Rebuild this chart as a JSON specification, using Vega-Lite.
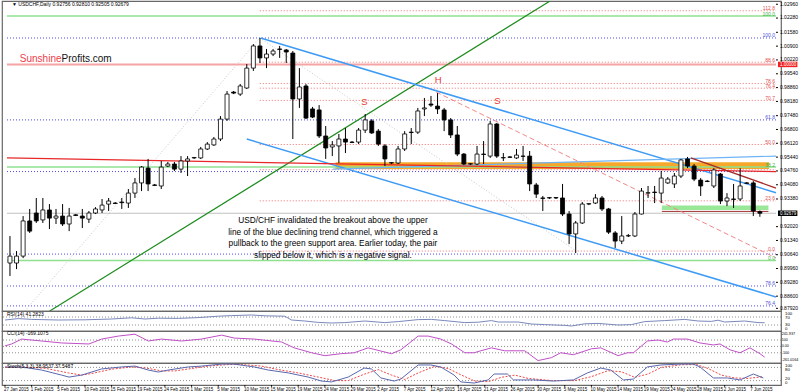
{
"$schema": "https://vega.github.io/schema/vega-lite/v6.json",
"padding": 0,
"spacing": 0,
"bounds": "flush",
"background": "white",
"config": {
 "view": {"stroke": "#686868", "strokeWidth": 1.2},
 "font": "Liberation Sans"
},
"datasets": {
 "c": [
  {"i":0,"o":0.9023,"h":0.9156,"l":0.8959,"c":0.9057},
  {"i":1,"o":0.9023,"h":0.9082,"l":0.8993,"c":0.9057},
  {"i":2,"o":0.9057,"h":0.9254,"l":0.9047,"c":0.9230},
  {"i":3,"o":0.9230,"h":0.9289,"l":0.9171,"c":0.9180},
  {"i":4,"o":0.9269,"h":0.9343,"l":0.9220,"c":0.9230},
  {"i":5,"o":0.9235,"h":0.9343,"l":0.9220,"c":0.9284},
  {"i":6,"o":0.9284,"h":0.9313,"l":0.9190,"c":0.9244},
  {"i":7,"o":0.9244,"h":0.9289,"l":0.9215,"c":0.9254},
  {"i":8,"o":0.9254,"h":0.9313,"l":0.9205,"c":0.9215},
  {"i":9,"o":0.9215,"h":0.9294,"l":0.9180,"c":0.9254},
  {"i":10,"o":0.9260,"h":0.9264,"l":0.9254,"c":0.9257},
  {"i":11,"o":0.9254,"h":0.9289,"l":0.9195,"c":0.9244},
  {"i":12,"o":0.9239,"h":0.9279,"l":0.9220,"c":0.9269},
  {"i":13,"o":0.9269,"h":0.9298,"l":0.9264,"c":0.9289},
  {"i":14,"o":0.9284,"h":0.9338,"l":0.9269,"c":0.9308},
  {"i":15,"o":0.9313,"h":0.9343,"l":0.9279,"c":0.9328},
  {"i":16,"o":0.9318,"h":0.9323,"l":0.9313,"c":0.9316},
  {"i":17,"o":0.9323,"h":0.9343,"l":0.9289,"c":0.9320},
  {"i":18,"o":0.9318,"h":0.9387,"l":0.9294,"c":0.9367},
  {"i":19,"o":0.9367,"h":0.9441,"l":0.9343,"c":0.9417},
  {"i":20,"o":0.9417,"h":0.9500,"l":0.9377,"c":0.9495},
  {"i":21,"o":0.9490,"h":0.9535,"l":0.9377,"c":0.9412},
  {"i":22,"o":0.9407,"h":0.9412,"l":0.9402,"c":0.9405},
  {"i":23,"o":0.9402,"h":0.9525,"l":0.9387,"c":0.9495},
  {"i":24,"o":0.9500,"h":0.9520,"l":0.9495,"c":0.9510},
  {"i":25,"o":0.9510,"h":0.9520,"l":0.9476,"c":0.9485},
  {"i":26,"o":0.9485,"h":0.9549,"l":0.9466,"c":0.9525},
  {"i":27,"o":0.9525,"h":0.9549,"l":0.9451,"c":0.9535},
  {"i":28,"o":0.9540,"h":0.9545,"l":0.9535,"c":0.9542},
  {"i":29,"o":0.9540,"h":0.9594,"l":0.9535,"c":0.9584},
  {"i":30,"o":0.9584,"h":0.9618,"l":0.9579,"c":0.9608},
  {"i":31,"o":0.9604,"h":0.9643,"l":0.9599,"c":0.9633},
  {"i":32,"o":0.9633,"h":0.9746,"l":0.9623,"c":0.9731},
  {"i":33,"o":0.9731,"h":0.9869,"l":0.9722,"c":0.9854},
  {"i":34,"o":0.9864,"h":0.9869,"l":0.9854,"c":0.9859},
  {"i":35,"o":0.9854,"h":0.9904,"l":0.9845,"c":0.9894},
  {"i":36,"o":0.9884,"h":1.0002,"l":0.9879,"c":0.9982},
  {"i":37,"o":0.9982,"h":1.0100,"l":0.9968,"c":1.0091},
  {"i":38,"o":1.0091,"h":1.0130,"l":1.0007,"c":1.0032},
  {"i":39,"o":1.0032,"h":1.0076,"l":0.9982,"c":1.0051},
  {"i":40,"o":1.0051,"h":1.0076,"l":1.0041,"c":1.0066},
  {"i":41,"o":1.0076,"h":1.0091,"l":1.0032,"c":1.0074},
  {"i":42,"o":1.0071,"h":1.0076,"l":1.0007,"c":1.0061},
  {"i":43,"o":1.0056,"h":1.0066,"l":0.9633,"c":0.9830},
  {"i":44,"o":0.9830,"h":0.9982,"l":0.9786,"c":0.9889},
  {"i":45,"o":0.9894,"h":0.9904,"l":0.9731,"c":0.9736},
  {"i":46,"o":0.9781,"h":0.9791,"l":0.9736,"c":0.9741},
  {"i":47,"o":0.9776,"h":0.9800,"l":0.9638,"c":0.9648},
  {"i":48,"o":0.9648,"h":0.9697,"l":0.9535,"c":0.9589},
  {"i":49,"o":0.9594,"h":0.9623,"l":0.9549,"c":0.9604},
  {"i":50,"o":0.9599,"h":0.9658,"l":0.9515,"c":0.9633},
  {"i":51,"o":0.9633,"h":0.9687,"l":0.9564,"c":0.9618},
  {"i":52,"o":0.9618,"h":0.9623,"l":0.9613,"c":0.9616},
  {"i":53,"o":0.9618,"h":0.9687,"l":0.9608,"c":0.9677},
  {"i":54,"o":0.9677,"h":0.9756,"l":0.9663,"c":0.9727},
  {"i":55,"o":0.9722,"h":0.9731,"l":0.9658,"c":0.9663},
  {"i":56,"o":0.9672,"h":0.9682,"l":0.9599,"c":0.9608},
  {"i":57,"o":0.9599,"h":0.9608,"l":0.9500,"c":0.9535},
  {"i":58,"o":0.9515,"h":0.9520,"l":0.9510,"c":0.9517},
  {"i":59,"o":0.9515,"h":0.9599,"l":0.9510,"c":0.9584},
  {"i":60,"o":0.9584,"h":0.9672,"l":0.9574,"c":0.9658},
  {"i":61,"o":0.9667,"h":0.9687,"l":0.9608,"c":0.9665},
  {"i":62,"o":0.9667,"h":0.9786,"l":0.9658,"c":0.9771},
  {"i":63,"o":0.9781,"h":0.9835,"l":0.9746,"c":0.9786},
  {"i":64,"o":0.9805,"h":0.9845,"l":0.9791,"c":0.9800},
  {"i":65,"o":0.9795,"h":0.9859,"l":0.9756,"c":0.9781},
  {"i":66,"o":0.9776,"h":0.9786,"l":0.9672,"c":0.9727},
  {"i":67,"o":0.9727,"h":0.9736,"l":0.9638,"c":0.9653},
  {"i":68,"o":0.9653,"h":0.9697,"l":0.9549,"c":0.9559},
  {"i":69,"o":0.9559,"h":0.9564,"l":0.9505,"c":0.9510},
  {"i":70,"o":0.9510,"h":0.9515,"l":0.9505,"c":0.9512},
  {"i":71,"o":0.9510,"h":0.9599,"l":0.9505,"c":0.9559},
  {"i":72,"o":0.9559,"h":0.9623,"l":0.9510,"c":0.9557},
  {"i":73,"o":0.9549,"h":0.9722,"l":0.9540,"c":0.9707},
  {"i":74,"o":0.9707,"h":0.9712,"l":0.9540,"c":0.9549},
  {"i":75,"o":0.9540,"h":0.9564,"l":0.9525,"c":0.9542},
  {"i":76,"o":0.9545,"h":0.9549,"l":0.9540,"c":0.9543},
  {"i":77,"o":0.9540,"h":0.9584,"l":0.9535,"c":0.9554},
  {"i":78,"o":0.9549,"h":0.9599,"l":0.9525,"c":0.9548},
  {"i":79,"o":0.9549,"h":0.9574,"l":0.9377,"c":0.9412},
  {"i":80,"o":0.9407,"h":0.9417,"l":0.9343,"c":0.9362},
  {"i":81,"o":0.9343,"h":0.9353,"l":0.9279,"c":0.9341},
  {"i":82,"o":0.9343,"h":0.9348,"l":0.9338,"c":0.9345},
  {"i":83,"o":0.9345,"h":0.9348,"l":0.9338,"c":0.9343},
  {"i":84,"o":0.9343,"h":0.9412,"l":0.9254,"c":0.9264},
  {"i":85,"o":0.9264,"h":0.9279,"l":0.9116,"c":0.9166},
  {"i":86,"o":0.9166,"h":0.9230,"l":0.9072,"c":0.9220},
  {"i":87,"o":0.9220,"h":0.9323,"l":0.9215,"c":0.9313},
  {"i":88,"o":0.9313,"h":0.9318,"l":0.9308,"c":0.9315},
  {"i":89,"o":0.9318,"h":0.9362,"l":0.9313,"c":0.9343},
  {"i":90,"o":0.9343,"h":0.9353,"l":0.9279,"c":0.9289},
  {"i":91,"o":0.9289,"h":0.9294,"l":0.9166,"c":0.9175},
  {"i":92,"o":0.9171,"h":0.9180,"l":0.9097,"c":0.9131},
  {"i":93,"o":0.9131,"h":0.9254,"l":0.9116,"c":0.9156},
  {"i":94,"o":0.9156,"h":0.9166,"l":0.9151,"c":0.9158},
  {"i":95,"o":0.9156,"h":0.9274,"l":0.9151,"c":0.9264},
  {"i":96,"o":0.9264,"h":0.9392,"l":0.9262,"c":0.9377},
  {"i":97,"o":0.9367,"h":0.9402,"l":0.9343,"c":0.9369},
  {"i":98,"o":0.9372,"h":0.9402,"l":0.9318,"c":0.9370},
  {"i":99,"o":0.9367,"h":0.9476,"l":0.9318,"c":0.9441},
  {"i":100,"o":0.9417,"h":0.9446,"l":0.9412,"c":0.9436},
  {"i":101,"o":0.9412,"h":0.9466,"l":0.9392,"c":0.9451},
  {"i":102,"o":0.9451,"h":0.9535,"l":0.9441,"c":0.9530},
  {"i":103,"o":0.9535,"h":0.9545,"l":0.9490,"c":0.9500},
  {"i":104,"o":0.9500,"h":0.9510,"l":0.9426,"c":0.9436},
  {"i":105,"o":0.9431,"h":0.9441,"l":0.9353,"c":0.9402},
  {"i":106,"o":0.9426,"h":0.9431,"l":0.9421,"c":0.9424},
  {"i":107,"o":0.9402,"h":0.9490,"l":0.9392,"c":0.9481},
  {"i":108,"o":0.9461,"h":0.9466,"l":0.9313,"c":0.9328},
  {"i":109,"o":0.9328,"h":0.9367,"l":0.9303,"c":0.9343},
  {"i":110,"o":0.9338,"h":0.9412,"l":0.9294,"c":0.9336},
  {"i":111,"o":0.9338,"h":0.9490,"l":0.9328,"c":0.9402},
  {"i":112,"o":0.9417,"h":0.9421,"l":0.9412,"c":0.9415},
  {"i":113,"o":0.9417,"h":0.9426,"l":0.9254,"c":0.9279},
  {"i":114,"o":0.92756,"h":0.92810,"l":0.92505,"c":0.92679}
 ],
 "lv": [
  {"g":"fr","p":1.0264,"a":37.97,"b":116.45},
  {"g":"fr","p":1.0011,"a":37.97,"b":116.45},
  {"g":"fr","p":0.9906,"a":37.97,"b":116.45},
  {"g":"fr","p":0.9883,"a":37.97,"b":116.45},
  {"g":"fr","p":0.9823,"a":37.97,"b":116.45},
  {"g":"fr","p":0.9606,"a":37.97,"b":116.45},
  {"g":"fr","p":0.9482,"a":37.97,"b":116.45},
  {"g":"fr","p":0.9329,"a":37.97,"b":116.45},
  {"g":"fr","p":0.9082,"a":37.97,"b":116.45},
  {"g":"bl","p":1.0130,"a":-0.45,"b":116.45},
  {"g":"bl","p":0.9727,"a":-0.45,"b":116.45},
  {"g":"bl","p":0.9473,"a":-0.45,"b":116.45},
  {"g":"bl","p":0.9067,"a":-0.45,"b":116.45},
  {"g":"bl","p":0.8910,"a":-0.45,"b":116.45},
  {"g":"bl","p":0.8812,"a":-0.45,"b":116.45},
  {"g":"gr","p":1.0238,"a":-0.45,"b":116.45},
  {"g":"gr","p":0.9495,"a":-0.45,"b":116.45},
  {"g":"gr","p":0.9035,"a":-0.45,"b":116.45},
  {"g":"par","p":1.0000,"a":-0.45,"b":116.45},
  {"g":"bid","p":0.92679,"a":-0.45,"b":116.45},
  {"g":"dr","p":0.9277,"a":99.1,"b":115.3}
 ],
 "bands": [
  {"g":"orange","a":49.5,"b":115.4,"p1":0.9486,"p2":0.9519},
  {"g":"green","a":99.1,"b":115.3,"p1":0.9284,"p2":0.9306}
 ],
 "tl": [
  {"id":"green","i":6.05,"p":0.8787},{"id":"green","i":82.1,"p":1.0312},
  {"id":"gdot","i":2.27,"p":0.8787},{"id":"gdot","i":37.97,"p":1.0130},
  {"id":"fdiag","i":37.97,"p":1.0130},{"id":"fdiag","i":86.1,"p":0.9082},
  {"id":"bup","i":38.1,"p":1.0130},{"id":"bup","i":116.45,"p":0.9369},
  {"id":"blo","i":36.0,"p":0.9633},{"id":"blo","i":116.45,"p":0.8856},
  {"id":"lblue","i":49.1,"p":0.9485},{"id":"lblue","i":116.45,"p":0.9549},
  {"id":"red","i":-0.45,"p":0.9540},{"id":"red","i":116.45,"p":0.9473},
  {"id":"dred","i":103.5,"p":0.9540},{"id":"dred","i":116.45,"p":0.9392},
  {"id":"pink","i":64.8,"p":0.9864},{"id":"pink","i":116.45,"p":0.9048}
 ],
 "fl": [
  {"t":"112.8","p":1.0264,"g":"r"},
  {"t":"100.0","p":1.0130,"g":"b"},
  {"t":"88.6","p":1.0011,"g":"r"},
  {"t":"78.6","p":0.9906,"g":"r"},
  {"t":"76.4","p":0.9883,"g":"r"},
  {"t":"70.7","p":0.9823,"g":"r"},
  {"t":"61.8","p":0.9727,"g":"b"},
  {"t":"50.0","p":0.9606,"g":"r"},
  {"t":"38.2","p":0.9495,"g":"g"},
  {"t":"23.6","p":0.9329,"g":"r"},
  {"t":"0.0","p":0.9082,"g":"r"},
  {"t":"0.0","p":0.9035,"g":"g"},
  {"t":"78.6","p":0.8910,"g":"b"},
  {"t":"76.4","p":0.8812,"g":"b"},
  {"t":"100.0","p":1.0238,"g":"g"}
 ],
 "yl": [
  {"p":1.0296,"t":"1.02960"},{"p":1.0228,"t":"1.02280"},{"p":1.0158,"t":"1.01580"},{"p":1.0090,"t":"1.00900"},{"p":1.0022,"t":"1.00220"},
  {"p":0.9954,"t":"0.99540"},{"p":0.9886,"t":"0.98860"},{"p":0.9818,"t":"0.98180"},{"p":0.9748,"t":"0.97480"},{"p":0.9680,"t":"0.96800"},
  {"p":0.9612,"t":"0.96120"},{"p":0.9544,"t":"0.95440"},{"p":0.9476,"t":"0.94760"},{"p":0.9408,"t":"0.94080"},{"p":0.9338,"t":"0.93380"},
  {"p":0.9202,"t":"0.92020"},{"p":0.9134,"t":"0.91340"},{"p":0.9064,"t":"0.90640"},{"p":0.8996,"t":"0.89960"},{"p":0.8928,"t":"0.89280"},
  {"p":0.8860,"t":"0.88600"},{"p":0.8800,"t":"0.87920"}
 ],
 "dl": [
  {"i":0,"t":"27 Jan 2015"},{"i":4,"t":"1 Feb 2015"},{"i":8,"t":"5 Feb 2015"},{"i":12,"t":"10 Feb 2015"},{"i":16,"t":"15 Feb 2015"},
  {"i":20,"t":"19 Feb 2015"},{"i":24,"t":"24 Feb 2015"},{"i":28,"t":"1 Mar 2015"},{"i":32,"t":"5 Mar 2015"},{"i":36,"t":"10 Mar 2015"},
  {"i":40,"t":"15 Mar 2015"},{"i":44,"t":"19 Mar 2015"},{"i":48,"t":"24 Mar 2015"},{"i":52,"t":"29 Mar 2015"},{"i":56,"t":"2 Apr 2015"},
  {"i":60,"t":"7 Apr 2015"},{"i":64,"t":"12 Apr 2015"},{"i":68,"t":"16 Apr 2015"},{"i":72,"t":"21 Apr 2015"},{"i":76,"t":"26 Apr 2015"},
  {"i":80,"t":"30 Apr 2015"},{"i":84,"t":"5 May 2015"},{"i":88,"t":"10 May 2015"},{"i":92,"t":"14 May 2015"},{"i":96,"t":"19 May 2015"},
  {"i":100,"t":"24 May 2015"},{"i":104,"t":"28 May 2015"},{"i":108,"t":"2 Jun 2015"},{"i":112,"t":"7 Jun 2015"}
 ],
 "rsi": [
  {"i":0,"v":55},{"i":2,"v":62},{"i":4,"v":58},{"i":8,"v":55},{"i":12,"v":56},{"i":16,"v":60},{"i":19,"v":66},{"i":21,"v":60},{"i":23,"v":64},{"i":26,"v":63},{"i":29,"v":67},{"i":32,"v":74},{"i":34,"v":77},{"i":37,"v":80},{"i":39,"v":76},{"i":42,"v":74},{"i":43,"v":55},{"i":45,"v":50},{"i":47,"v":43},{"i":49,"v":40},{"i":51,"v":42},{"i":54,"v":50},{"i":57,"v":42},{"i":59,"v":47},{"i":62,"v":57},{"i":64,"v":58},{"i":66,"v":52},{"i":69,"v":42},{"i":71,"v":44},{"i":73,"v":52},{"i":74,"v":45},{"i":77,"v":45},{"i":79,"v":35},{"i":81,"v":32},{"i":84,"v":28},{"i":85,"v":25},{"i":87,"v":36},{"i":89,"v":38},{"i":92,"v":30},{"i":94,"v":32},{"i":96,"v":47},{"i":99,"v":52},{"i":102,"v":58},{"i":104,"v":50},{"i":106,"v":48},{"i":107,"v":54},{"i":108,"v":45},{"i":111,"v":50},{"i":113,"v":42},{"i":114,"v":41.3}
 ],
 "cci": [
  {"i":0,"v":8},{"i":1,"v":38},{"i":2.5,"v":115},{"i":5.5,"v":85},{"i":8.5,"v":54},{"i":12.6,"v":38},{"i":14.5,"v":115},{"i":17,"v":162},{"i":19.5,"v":192},{"i":21.5,"v":85},{"i":23.5,"v":115},{"i":26.5,"v":85},{"i":29.5,"v":115},{"i":32.5,"v":177},{"i":34.4,"v":131},{"i":37.4,"v":115},{"i":41.5,"v":69},{"i":43.4,"v":-23},{"i":46,"v":-100},{"i":48,"v":-146},{"i":50.4,"v":-115},{"i":52.4,"v":-100},{"i":54.5,"v":-23},{"i":58,"v":-115},{"i":59.4,"v":-54},{"i":60.5,"v":38},{"i":62,"v":162},{"i":63.5,"v":162},{"i":65.4,"v":115},{"i":67,"v":38},{"i":69,"v":-100},{"i":70.4,"v":-100},{"i":71.4,"v":-69},{"i":73,"v":-23},{"i":75,"v":-69},{"i":78,"v":-69},{"i":80,"v":-223},{"i":82,"v":-177},{"i":83.4,"v":-100},{"i":85.3,"v":-131},{"i":88,"v":-38},{"i":89.4,"v":-23},{"i":92,"v":-146},{"i":93.4,"v":-100},{"i":94.3,"v":-100},{"i":96.4,"v":85},{"i":98,"v":100},{"i":99.4,"v":69},{"i":100.3,"v":115},{"i":102.4,"v":115},{"i":104.3,"v":54},{"i":106.3,"v":23},{"i":107.3,"v":38},{"i":108.8,"v":-54},{"i":110.3,"v":-100},{"i":111.8,"v":-23},{"i":113.3,"v":-115},{"i":114,"v":-169.1}
 ],
 "sto": [
  {"i":0,"v":82},{"i":2.5,"v":82},{"i":5.5,"v":68},{"i":8.5,"v":45},{"i":9.6,"v":36},{"i":11.5,"v":45},{"i":14.5,"v":73},{"i":17.5,"v":82},{"i":19.5,"v":86},{"i":21.5,"v":68},{"i":23,"v":59},{"i":24.5,"v":68},{"i":27.5,"v":82},{"i":29.5,"v":86},{"i":32.5,"v":95},{"i":34.4,"v":95},{"i":37.4,"v":82},{"i":39.5,"v":68},{"i":42.5,"v":55},{"i":45.5,"v":36},{"i":47.5,"v":18},{"i":49,"v":14},{"i":51.5,"v":36},{"i":53.9,"v":77},{"i":55,"v":73},{"i":56.4,"v":32},{"i":58.4,"v":18},{"i":59.4,"v":27},{"i":62,"v":91},{"i":63.9,"v":91},{"i":65.4,"v":82},{"i":67.4,"v":45},{"i":68.4,"v":14},{"i":70.4,"v":9},{"i":72.5,"v":23},{"i":73.4,"v":50},{"i":75.4,"v":50},{"i":76.3,"v":23},{"i":79.3,"v":23},{"i":82.3,"v":18},{"i":85.3,"v":23},{"i":87.4,"v":55},{"i":89.4,"v":77},{"i":90.9,"v":68},{"i":92.8,"v":23},{"i":94.3,"v":27},{"i":96.4,"v":82},{"i":98.4,"v":91},{"i":101.3,"v":95},{"i":103.3,"v":95},{"i":104.3,"v":82},{"i":106.3,"v":32},{"i":108.4,"v":32},{"i":110.3,"v":23},{"i":112.3,"v":50},{"i":113.8,"v":32}
 ],
 "sig": [
  {"i":0,"v":80},{"i":3,"v":82},{"i":6,"v":76},{"i":9.5,"v":55},{"i":11.5,"v":45},{"i":13,"v":52},{"i":16,"v":72},{"i":19,"v":82},{"i":21,"v":78},{"i":23.5,"v":64},{"i":25.5,"v":64},{"i":28,"v":75},{"i":30.5,"v":86},{"i":33.5,"v":93},{"i":35.5,"v":93},{"i":38.5,"v":86},{"i":41,"v":70},{"i":44,"v":55},{"i":47,"v":36},{"i":49.5,"v":20},{"i":51.5,"v":20},{"i":54,"v":50},{"i":56,"v":70},{"i":58,"v":45},{"i":60,"v":25},{"i":62,"v":55},{"i":64.5,"v":85},{"i":66.5,"v":75},{"i":68.5,"v":45},{"i":70.5,"v":18},{"i":72.5,"v":15},{"i":74.5,"v":35},{"i":76.5,"v":45},{"i":78.5,"v":30},{"i":82,"v":20},{"i":85.5,"v":20},{"i":88,"v":38},{"i":90.5,"v":65},{"i":92.5,"v":60},{"i":94.5,"v":35},{"i":96.5,"v":50},{"i":98.5,"v":80},{"i":101.5,"v":92},{"i":103.8,"v":93},{"i":105.5,"v":75},{"i":107.5,"v":45},{"i":109.5,"v":32},{"i":111.5,"v":30},{"i":113.8,"v":38}
 ]
},
"vconcat": [
 {
  "width": 779, "height": 310,
  "layer": [
   {"data": {"name": "bands"}, "transform": [{"filter": "datum.g=='orange'"}],
    "mark": {"type": "rect", "color": "#F5A31F", "opacity": 0.95},
    "encoding": {"x": {"field": "a", "type": "quantitative", "scale": {"domain": [-0.45, 116.45], "nice": false, "zero": false}, "axis": null}, "x2": {"field": "b"},
     "y": {"field": "p1", "type": "quantitative", "scale": {"domain": [0.8787, 1.0312], "nice": false, "zero": false}, "axis": null},
     "y2": {"field": "p2"}}},
   {"data": {"name": "bands"}, "transform": [{"filter": "datum.g=='green'"}],
    "mark": {"type": "rect", "color": "#98E898"},
    "encoding": {"x": {"field": "a", "type": "quantitative", "axis": null}, "x2": {"field": "b"}, "y": {"field": "p1", "type": "quantitative", "axis": null}, "y2": {"field": "p2"}}},
   {"data": {"name": "lv"}, "transform": [{"filter": "datum.g=='fr'"}],
    "mark": {"type": "rule", "color": "#F07070", "strokeWidth": 1, "strokeDash": [1, 2]},
    "encoding": {"x": {"field": "a", "type": "quantitative", "axis": null}, "x2": {"field": "b"}, "y": {"field": "p", "type": "quantitative", "axis": null}}},
   {"data": {"name": "lv"}, "transform": [{"filter": "datum.g=='bl'"}],
    "mark": {"type": "rule", "color": "#4A4AF0", "strokeWidth": 1, "strokeDash": [1, 2]},
    "encoding": {"x": {"field": "a", "type": "quantitative", "axis": null}, "x2": {"field": "b"}, "y": {"field": "p", "type": "quantitative", "axis": null}}},
   {"data": {"name": "lv"}, "transform": [{"filter": "datum.g=='gr'"}],
    "mark": {"type": "rule", "color": "#8FE08F", "strokeWidth": 1.5},
    "encoding": {"x": {"field": "a", "type": "quantitative", "axis": null}, "x2": {"field": "b"}, "y": {"field": "p", "type": "quantitative", "axis": null}}},
   {"data": {"name": "lv"}, "transform": [{"filter": "datum.g=='par'"}],
    "mark": {"type": "rule", "color": "#F4A4A4", "strokeWidth": 2},
    "encoding": {"x": {"field": "a", "type": "quantitative", "axis": null}, "x2": {"field": "b"}, "y": {"field": "p", "type": "quantitative", "axis": null}}},
   {"data": {"name": "lv"}, "transform": [{"filter": "datum.g=='bid'"}],
    "mark": {"type": "rule", "color": "#C0C0C0", "strokeWidth": 1.2},
    "encoding": {"x": {"field": "a", "type": "quantitative", "axis": null}, "x2": {"field": "b"}, "y": {"field": "p", "type": "quantitative", "axis": null}}},
   {"data": {"name": "lv"}, "transform": [{"filter": "datum.g=='dr'"}],
    "mark": {"type": "rule", "color": "#A03030", "strokeWidth": 1},
    "encoding": {"x": {"field": "a", "type": "quantitative", "axis": null}, "x2": {"field": "b"}, "y": {"field": "p", "type": "quantitative", "axis": null}}},
   {"data": {"name": "tl"}, "transform": [{"filter": "datum.id=='gdot' || datum.id=='fdiag'"}],
    "mark": {"type": "line", "color": "#C8C8C8", "strokeWidth": 1, "strokeDash": [1, 2], "clip": true},
    "encoding": {"x": {"field": "i", "type": "quantitative", "axis": null}, "y": {"field": "p", "type": "quantitative", "axis": null}, "detail": {"field": "id"}}},
   {"data": {"name": "tl"}, "transform": [{"filter": "datum.id=='green'"}],
    "mark": {"type": "line", "color": "#1E8C1E", "strokeWidth": 1.2, "clip": true},
    "encoding": {"x": {"field": "i", "type": "quantitative", "axis": null}, "y": {"field": "p", "type": "quantitative", "axis": null}}},
   {"data": {"name": "tl"}, "transform": [{"filter": "datum.id=='bup' || datum.id=='blo'"}],
    "mark": {"type": "line", "color": "#3D9BF5", "strokeWidth": 1.5, "clip": true},
    "encoding": {"x": {"field": "i", "type": "quantitative", "axis": null}, "y": {"field": "p", "type": "quantitative", "axis": null}, "detail": {"field": "id"}}},
   {"data": {"name": "tl"}, "transform": [{"filter": "datum.id=='lblue'"}],
    "mark": {"type": "line", "color": "#6FB4F5", "strokeWidth": 1.2, "clip": true},
    "encoding": {"x": {"field": "i", "type": "quantitative", "axis": null}, "y": {"field": "p", "type": "quantitative", "axis": null}}},
   {"data": {"name": "tl"}, "transform": [{"filter": "datum.id=='red'"}],
    "mark": {"type": "line", "color": "#E82828", "strokeWidth": 1.3, "clip": true},
    "encoding": {"x": {"field": "i", "type": "quantitative", "axis": null}, "y": {"field": "p", "type": "quantitative", "axis": null}}},
   {"data": {"name": "tl"}, "transform": [{"filter": "datum.id=='dred'"}],
    "mark": {"type": "line", "color": "#A52A2A", "strokeWidth": 1.3, "clip": true},
    "encoding": {"x": {"field": "i", "type": "quantitative", "axis": null}, "y": {"field": "p", "type": "quantitative", "axis": null}}},
   {"data": {"name": "tl"}, "transform": [{"filter": "datum.id=='pink'"}],
    "mark": {"type": "line", "color": "#F08888", "strokeWidth": 1, "strokeDash": [5, 3], "clip": true},
    "encoding": {"x": {"field": "i", "type": "quantitative", "axis": null}, "y": {"field": "p", "type": "quantitative", "axis": null}}},
   {"data": {"name": "c"},
    "mark": {"type": "rule", "color": "#000", "strokeWidth": 1},
    "encoding": {"x": {"field": "i", "type": "quantitative", "axis": null}, "y": {"field": "l", "type": "quantitative", "axis": null}, "y2": {"field": "h"}}},
   {"data": {"name": "c"},
    "mark": {"type": "bar", "width": 4, "stroke": "#000", "strokeWidth": 0.8},
    "encoding": {"x": {"field": "i", "type": "quantitative", "axis": null}, "y": {"field": "o", "type": "quantitative", "axis": null}, "y2": {"field": "c"},
     "fill": {"condition": {"test": "datum.c>=datum.o", "value": "#ffffff"}, "value": "#000000"}}},
   {"data": {"name": "fl"}, "transform": [{"filter": "datum.g=='r'"}],
    "mark": {"type": "text", "align": "right", "baseline": "bottom", "fontSize": 5, "dy": 0.5, "color": "#E05050"},
    "encoding": {"x": {"datum": 116.3, "type": "quantitative", "axis": null}, "y": {"field": "p", "type": "quantitative", "axis": null}, "text": {"field": "t"}}},
   {"data": {"name": "fl"}, "transform": [{"filter": "datum.g=='b'"}],
    "mark": {"type": "text", "align": "right", "baseline": "bottom", "fontSize": 5, "dy": 0.5, "color": "#5050D8"},
    "encoding": {"x": {"datum": 116.3, "type": "quantitative", "axis": null}, "y": {"field": "p", "type": "quantitative", "axis": null}, "text": {"field": "t"}}},
   {"data": {"name": "fl"}, "transform": [{"filter": "datum.g=='g'"}],
    "mark": {"type": "text", "align": "right", "baseline": "bottom", "fontSize": 5, "dy": 0.5, "color": "#40B040"},
    "encoding": {"x": {"datum": 116.3, "type": "quantitative", "axis": null}, "y": {"field": "p", "type": "quantitative", "axis": null}, "text": {"field": "t"}}},
   {"data": {"name": "yl"},
    "mark": {"type": "rule", "color": "#000", "strokeWidth": 1},
    "encoding": {"x": {"datum": 116.45, "type": "quantitative", "axis": null}, "x2": {"datum": 116.75}, "y": {"field": "p", "type": "quantitative", "axis": null}}},
   {"data": {"name": "yl"},
    "mark": {"type": "text", "align": "left", "baseline": "middle", "fontSize": 5, "color": "#000", "dy": -0.6},
    "encoding": {"x": {"datum": 117.05, "type": "quantitative", "axis": null}, "y": {"field": "p", "type": "quantitative", "axis": null}, "text": {"field": "t"}}},
   {"data": {"values": [{"i": 116.75, "j": 119.7, "p1": 0.99865, "p2": 1.00135}]},
    "mark": {"type": "rect", "color": "#F02020"},
    "encoding": {"x": {"field": "i", "type": "quantitative", "axis": null}, "x2": {"field": "j"}, "y": {"field": "p1", "type": "quantitative", "axis": null}, "y2": {"field": "p2"}}},
   {"data": {"values": [{"i": 116.75, "j": 119.7, "p1": 0.92544, "p2": 0.92814}]},
    "mark": {"type": "rect", "color": "#000000"},
    "encoding": {"x": {"field": "i", "type": "quantitative", "axis": null}, "x2": {"field": "j"}, "y": {"field": "p1", "type": "quantitative", "axis": null}, "y2": {"field": "p2"}}},
   {"data": {"values": [{"i": 117.05, "p": 1.0, "t": "1.00000"}, {"i": 117.05, "p": 0.92679, "t": "0.92679"}]},
    "mark": {"type": "text", "align": "left", "baseline": "middle", "fontSize": 4.5, "color": "#ffffff", "dy": 0.4},
    "encoding": {"x": {"field": "i", "type": "quantitative", "axis": null}, "y": {"field": "p", "type": "quantitative", "axis": null}, "text": {"field": "t"}}},
   {"data": {"values": [{"i": 0.3, "p": 1.0296, "t": "\u25BC  USDCHF,Daily  0.92756 0.92810 0.92505 0.92679"}]},
    "mark": {"type": "text", "align": "left", "baseline": "middle", "fontSize": 5, "color": "#000"},
    "encoding": {"x": {"field": "i", "type": "quantitative", "axis": null}, "y": {"field": "p", "type": "quantitative", "axis": null}, "text": {"field": "t"}}},
   {"data": {"values": [{"i": 1.5, "p": 1.0013, "t": "Sunshine"}]},
    "mark": {"type": "text", "align": "left", "baseline": "alphabetic", "fontSize": 10, "color": "#EE3B4A"},
    "encoding": {"x": {"field": "i", "type": "quantitative", "axis": null}, "y": {"field": "p", "type": "quantitative", "axis": null}, "text": {"field": "t"}}},
   {"data": {"values": [{"i": 7.85, "p": 1.0013, "t": "Profits.com"}]},
    "mark": {"type": "text", "align": "left", "baseline": "alphabetic", "fontSize": 10, "color": "#111"},
    "encoding": {"x": {"field": "i", "type": "quantitative", "axis": null}, "y": {"field": "p", "type": "quantitative", "axis": null}, "text": {"field": "t"}}},
   {"data": {"values": [{"i": 53.9, "p": 0.9815, "t": "S"}, {"i": 65.1, "p": 0.9922, "t": "H"}, {"i": 74.1, "p": 0.9820, "t": "S"}]},
    "mark": {"type": "text", "align": "center", "baseline": "middle", "fontSize": 9.5, "color": "#E8382F"},
    "encoding": {"x": {"field": "i", "type": "quantitative", "axis": null}, "y": {"field": "p", "type": "quantitative", "axis": null}, "text": {"field": "t"}}},
   {"data": {"values": [
     {"i": 49.1, "p": 0.9230, "t": "USD/CHF invalidated the breakout above the upper"},
     {"i": 49.1, "p": 0.9173, "t": "line of the blue declining trend channel, which triggered a"},
     {"i": 49.1, "p": 0.9116, "t": "pullback to the green support area. Earlier today, the pair"},
     {"i": 49.1, "p": 0.9060, "t": "slipped below it, which is a negative signal."}]},
    "mark": {"type": "text", "align": "center", "baseline": "middle", "fontSize": 8.3, "color": "#000"},
    "encoding": {"x": {"field": "i", "type": "quantitative", "axis": null}, "y": {"field": "p", "type": "quantitative", "axis": null}, "text": {"field": "t"}}}
  ]
 },
 {
  "width": 779, "height": 20,
  "layer": [
   {"data": {"values": [{"v": 70}, {"v": 30}]},
    "mark": {"type": "rule", "color": "#909090", "strokeDash": [1, 2]},
    "encoding": {"y": {"field": "v", "type": "quantitative", "scale": {"domain": [0, 100], "nice": false}, "axis": null}}},
   {"data": {"name": "rsi"},
    "mark": {"type": "line", "color": "#7A88BC", "strokeWidth": 1},
    "encoding": {"x": {"field": "i", "type": "quantitative", "scale": {"domain": [-0.45, 116.45], "nice": false, "zero": false}, "axis": null}, "y": {"field": "v", "type": "quantitative", "axis": null}}},
   {"data": {"values": [{"i": 0.3, "v": 96, "t": "RSI(14) 41.2823"}]},
    "mark": {"type": "text", "align": "left", "baseline": "top", "fontSize": 5, "color": "#000"},
    "encoding": {"x": {"field": "i", "type": "quantitative", "axis": null}, "y": {"field": "v", "type": "quantitative", "axis": null}, "text": {"field": "t"}}},
   {"data": {"values": [{"v": 87, "t": "100"}, {"v": 63, "t": "70"}, {"v": 32, "t": "30"}, {"v": 10, "t": "0"}]},
    "mark": {"type": "text", "align": "left", "baseline": "middle", "fontSize": 4.3, "color": "#000"},
    "encoding": {"x": {"datum": 117.05, "type": "quantitative", "axis": null}, "y": {"field": "v", "type": "quantitative", "axis": null}, "text": {"field": "t"}}}
  ]
 },
 {
  "width": 779, "height": 32,
  "layer": [
   {"data": {"values": [{"v": 100}, {"v": 0}, {"v": -100}]},
    "mark": {"type": "rule", "color": "#909090", "strokeDash": [1, 2]},
    "encoding": {"y": {"field": "v", "type": "quantitative", "scale": {"domain": [-261.0164, 241.937], "nice": false, "zero": false}, "axis": null}}},
   {"data": {"name": "cci"},
    "mark": {"type": "line", "color": "#C050C8", "strokeWidth": 1},
    "encoding": {"x": {"field": "i", "type": "quantitative", "scale": {"domain": [-0.45, 116.45], "nice": false, "zero": false}, "axis": null}, "y": {"field": "v", "type": "quantitative", "axis": null}}},
   {"data": {"values": [{"i": 0.3, "v": 235, "t": "CCI(14) -169.1075"}]},
    "mark": {"type": "text", "align": "left", "baseline": "top", "fontSize": 5, "color": "#000"},
    "encoding": {"x": {"field": "i", "type": "quantitative", "axis": null}, "y": {"field": "v", "type": "quantitative", "axis": null}, "text": {"field": "t"}}},
   {"data": {"values": [{"v": 200, "t": "241.937"}, {"v": 100, "t": "100"}, {"v": 0, "t": "0.00"}, {"v": -100, "t": "-100"}, {"v": -212, "t": "-261.0164"}]},
    "mark": {"type": "text", "align": "left", "baseline": "middle", "fontSize": 3.7, "color": "#000"},
    "encoding": {"x": {"datum": 116.55, "type": "quantitative", "axis": null}, "y": {"field": "v", "type": "quantitative", "axis": null}, "text": {"field": "t"}}}
  ]
 },
 {
  "width": 779, "height": 22,
  "layer": [
   {"data": {"values": [{"v": 80}, {"v": 20}]},
    "mark": {"type": "rule", "color": "#909090", "strokeDash": [1, 2]},
    "encoding": {"y": {"field": "v", "type": "quantitative", "scale": {"domain": [0, 100], "nice": false}, "axis": null}}},
   {"data": {"name": "sig"},
    "mark": {"type": "line", "color": "#F04848", "strokeWidth": 1, "strokeDash": [2, 1.5]},
    "encoding": {"x": {"field": "i", "type": "quantitative", "scale": {"domain": [-0.45, 116.45], "nice": false, "zero": false}, "axis": null}, "y": {"field": "v", "type": "quantitative", "axis": null}}},
   {"data": {"name": "sto"},
    "mark": {"type": "line", "color": "#5A68B0", "strokeWidth": 1},
    "encoding": {"x": {"field": "i", "type": "quantitative", "axis": null}, "y": {"field": "v", "type": "quantitative", "axis": null}}},
   {"data": {"values": [{"i": 0.3, "v": 97, "t": "Stoch(5,3,3) 38.9537 37.5487"}]},
    "mark": {"type": "text", "align": "left", "baseline": "top", "fontSize": 5, "color": "#000"},
    "encoding": {"x": {"field": "i", "type": "quantitative", "axis": null}, "y": {"field": "v", "type": "quantitative", "axis": null}, "text": {"field": "t"}}},
   {"data": {"values": [{"v": 87, "t": "100"}, {"v": 66, "t": "80"}, {"v": 28, "t": "20"}, {"v": 10, "t": "0"}]},
    "mark": {"type": "text", "align": "left", "baseline": "middle", "fontSize": 4.3, "color": "#000"},
    "encoding": {"x": {"datum": 117.05, "type": "quantitative", "axis": null}, "y": {"field": "v", "type": "quantitative", "axis": null}, "text": {"field": "t"}}},
   {"data": {"name": "dl"},
    "mark": {"type": "rule", "color": "#000", "strokeWidth": 1},
    "encoding": {"x": {"field": "i", "type": "quantitative", "axis": null}, "y": {"datum": 0, "type": "quantitative", "axis": null}, "y2": {"datum": -8}}},
   {"data": {"name": "dl"},
    "mark": {"type": "text", "align": "left", "baseline": "top", "fontSize": 4.5, "color": "#000", "dx": -1},
    "encoding": {"x": {"field": "i", "type": "quantitative", "axis": null}, "y": {"datum": -10, "type": "quantitative", "axis": null}, "text": {"field": "t"}}}
  ]
 }
]
}
